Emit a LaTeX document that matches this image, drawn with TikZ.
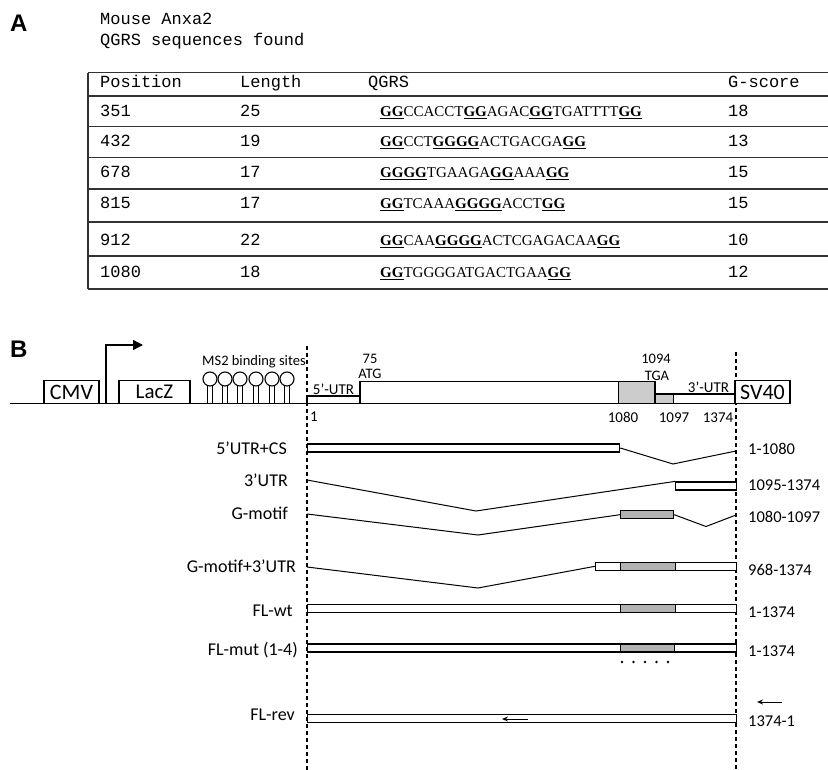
\documentclass[tikz,border=0pt]{standalone}
\usepackage{fontspec}
\setmainfont{Carlito}
\newfontfamily\monof{Liberation Mono}
\newfontfamily\serf{Liberation Serif}
\newfontfamily\arialf{Liberation Sans}
\usetikzlibrary{arrows.meta}
\newcommand{\fsz}[1]{\fontsize{#1}{#1}\selectfont}
\newcommand{\bgg}[1]{\underline{\textbf{#1}}}
\begin{document}
\begin{tikzpicture}[x=1pt,y=-1pt,
  tline/.style={line width=1.6pt, draw=black!80},
  mono/.style={font=\monof\fsz{17}, anchor=base west, inner sep=0pt},
  seq/.style={font=\serf\fsz{15}, anchor=base west, inner sep=0pt},
  panel/.style={font=\arialf\bfseries\fsz{24}, anchor=base west, inner sep=0pt},
  lab/.style={font=\fsz{15}, anchor=base, inner sep=0pt},
  clab/.style={font=\fsz{18}, anchor=base east, inner sep=0pt},
  rlab/.style={font=\fsz{16.5}, anchor=base west, inner sep=0pt},
  boxn/.style={draw, line width=1.3pt, fill=white, inner sep=0pt},
  bar/.style={draw, line width=1.2pt, fill=white, inner sep=0pt, minimum height=8pt, anchor=west},
  gbar/.style={draw, line width=1.2pt, fill=black!30, inner sep=0pt, minimum height=8pt, anchor=west},
  vline/.style={dash pattern=on 4pt off 3pt, line width=1.2pt},
  conn/.style={line width=1pt},
  gene/.style={draw, line width=1.3pt}
]
\useasboundingbox (0,0) rectangle (828,770);

% ---------------- Panel A ----------------
\node[panel] (pA) at (10,32) {A};
\node[mono] (title1) at (100,25) {Mouse Anxa2};
\node[mono] (title2) at (100,46) {QGRS sequences found};

\foreach \yy in {72.7,96,126.7,157.7,189.3,222.3,256,289.3}
  \draw[tline] (88,\yy) -- (828,\yy);
\draw[tline] (88,72.7) -- (88,289.3);

\node[mono] (h1) at (100,87.5) {Position};
\node[mono] (h2) at (240,87.5) {Length};
\node[mono] (h3) at (368,87.5) {QGRS};
\node[mono] (h4) at (728,87.5) {G-score};

\node[mono] (p1) at (100,117) {351};
\node[mono] (l1) at (240,117) {25};
\node[seq]  (s1) at (380,117) {\bgg{GG}CCACCT\bgg{GG}AGAC\bgg{GG}TGATTTT\bgg{GG}};
\node[mono] (g1) at (728,117) {18};

\node[mono] (p2) at (100,146.5) {432};
\node[mono] (l2) at (240,146.5) {19};
\node[seq]  (s2) at (380,146.5) {\bgg{GG}CCT\bgg{GGGG}ACTGACGA\bgg{GG}};
\node[mono] (g2) at (728,146.5) {13};

\node[mono] (p3) at (100,178) {678};
\node[mono] (l3) at (240,178) {17};
\node[seq]  (s3) at (380,178) {\bgg{GGGG}TGAAGA\bgg{GG}AAA\bgg{GG}};
\node[mono] (g3) at (728,178) {15};

\node[mono] (p4) at (100,209) {815};
\node[mono] (l4) at (240,209) {17};
\node[seq]  (s4) at (380,209) {\bgg{GG}TCAAA\bgg{GGGG}ACCT\bgg{GG}};
\node[mono] (g4) at (728,209) {15};

\node[mono] (p5) at (100,245.5) {912};
\node[mono] (l5) at (240,245.5) {22};
\node[seq]  (s5) at (380,245.5) {\bgg{GG}CAA\bgg{GGGG}ACTCGAGACAA\bgg{GG}};
\node[mono] (g5) at (728,245.5) {10};

\node[mono] (p6) at (100,278) {1080};
\node[mono] (l6) at (240,278) {18};
\node[seq]  (s6) at (380,278) {\bgg{GG}TGGGGATGACTGAA\bgg{GG}};
\node[mono] (g6) at (728,278) {12};

% ---------------- Panel B ----------------
\node[panel] (pB) at (10,357) {B};

% dashed guide lines
\draw[vline] (307,346) -- (307,770);
\draw[vline] (736,352) -- (736,770);

% backbone
\coordinate (bb0) at (10,403.3);
\coordinate (bb1) at (735,403.3);
\draw[line width=1.4pt] (bb0) -- (bb1);

% CMV, LacZ, SV40
\node[boxn, minimum width=55pt, minimum height=22.6pt, font=\fsz{22}] (cmv) at (71.5,392) {CMV};
\node[boxn, minimum width=71pt, minimum height=22.6pt, font=\fsz{21}] (lacz) at (154.5,392) {LacZ};
\node[boxn, minimum width=55pt, minimum height=22.6pt, font=\fsz{22}] (sv40) at (762.5,392) {SV40};

% promoter arrow
\coordinate (pr0) at (106,403.3);
\coordinate (pr1) at (106,345);
\coordinate (pr2) at (143,345);
\draw[line width=1.4pt, -{Triangle[length=10pt,width=10pt]}] (pr0) -- (pr1) -- (pr2);

% MS2 stem loops
\foreach \xx in {210,225,240,256,272,287}{
  \draw[line width=1.1pt] (\xx,379) circle[radius=7pt];
  \draw[line width=1.1pt] (\xx-2.4,385.6) -- (\xx-2.4,403.3);
  \draw[line width=1.1pt] (\xx+2.4,385.6) -- (\xx+2.4,403.3);
}
\node[lab, font=\fsz{14.5}, anchor=base west] (ms2) at (202,365) {MS2 binding sites};

% gene map
\draw[gene, fill=white] (307,396) rectangle (360,403.3);
\draw[gene, fill=white] (360,381.7) rectangle (618.3,403.3);
\draw[gene, fill=black!20] (618.3,381.7) rectangle (655,403.3);
\draw[gene, fill=black!20] (655,394) rectangle (673.3,403.3);
\draw[gene, fill=white] (673.3,394) rectangle (735,403.3);

\node[lab] (utr5) at (333.5,394.5) {5'-UTR};
\node[lab, font=\fsz{14.5}] (n75) at (370,363) {75};
\node[lab, font=\fsz{14.5}] (atg) at (370,378.5) {ATG};
\node[lab, font=\fsz{14.5}] (n1094) at (656,363) {1094};
\node[lab, font=\fsz{14.5}] (tga) at (657,380) {TGA};
\node[lab] (utr3) at (708.5,392.5) {3'-UTR};
\node[lab] (n1) at (314,421) {1};
\node[lab] (n1080) at (623,422) {1080};
\node[lab] (n1097) at (674,422) {1097};
\node[lab] (n1374) at (718,422) {1374};

% ---- constructs ----
% row 1: 5'UTR+CS
\node[clab] (c1) at (287,454) {5'UTR+CS};
\node[bar, minimum width=312pt] (b1) at (307,448) {};
\coordinate (v1) at (673,464);
\coordinate (e1) at (736,451);
\draw[conn] (b1.east) -- (v1) -- (e1);
\node[rlab] (r1) at (748,454) {1-1080};

% row 2: 3'UTR
\node[clab] (c2) at (288,486) {3'UTR};
\coordinate (s2a) at (307,480);
\coordinate (v2) at (476,511);
\node[bar, minimum width=61pt] (b2) at (675,486) {};
\draw[conn] (s2a) -- (v2) -- (b2.north west);
\node[rlab] (r2) at (748,490) {1095-1374};

% row 3: G-motif
\node[clab] (c3) at (288,519) {G-motif};
\coordinate (s3a) at (307,514);
\coordinate (v3) at (478,535);
\node[gbar, minimum width=53pt] (b3) at (620,514.7) {};
\coordinate (v3b) at (706,526.5);
\coordinate (e3) at (736,515);
\draw[conn] (s3a) -- (v3) -- (b3.west);
\draw[conn] (b3.east) -- (v3b) -- (e3);
\node[rlab] (r3) at (748,522) {1080-1097};

% row 4: G-motif+3'UTR
\node[clab] (c4) at (296,572) {G-motif+3'UTR};
\coordinate (s4a) at (307,567);
\coordinate (v4) at (478,588);
\node[bar, minimum width=141pt] (b4) at (595,566.3) {};
\node[gbar, minimum width=55pt] (b4g) at (620,566.3) {};
\draw[conn] (s4a) -- (v4) -- (b4.west);
\node[rlab] (r4) at (748,575.5) {968-1374};

% row 5: FL-wt
\node[clab] (c5) at (293,616) {FL-wt};
\node[bar, minimum width=429pt] (b5) at (307,608.5) {};
\node[gbar, minimum width=55pt] (b5g) at (620,608.5) {};
\node[rlab] (r5) at (748,617.5) {1-1374};

% row 6: FL-mut (1-4)
\node[clab] (c6) at (298,655) {FL-mut (1-4)};
\node[bar, minimum width=429pt] (b6) at (307,648) {};
\node[gbar, minimum width=54pt] (b6g) at (620,648) {};
\foreach \xx in {622,633.5,645,656.5,668}
  \fill (\xx,662) circle[radius=1.3pt];
\node[rlab] (r6) at (748,656) {1-1374};

% row 7: FL-rev
\node[clab] (c7) at (295,720) {FL-rev};
\node[bar, minimum width=429pt] (b7) at (307,718.5) {};
\coordinate (a7a) at (528,719);
\coordinate (a7b) at (502,719);
\draw[conn, -{Stealth[length=6pt,width=5pt]}] (a7a) -- (a7b);
\coordinate (a8a) at (782,702);
\coordinate (a8b) at (757,702);
\draw[conn, -{Stealth[length=6pt,width=5pt]}] (a8a) -- (a8b);
\node[rlab] (r7) at (748,726) {1374-1};

\end{tikzpicture}
\end{document}
